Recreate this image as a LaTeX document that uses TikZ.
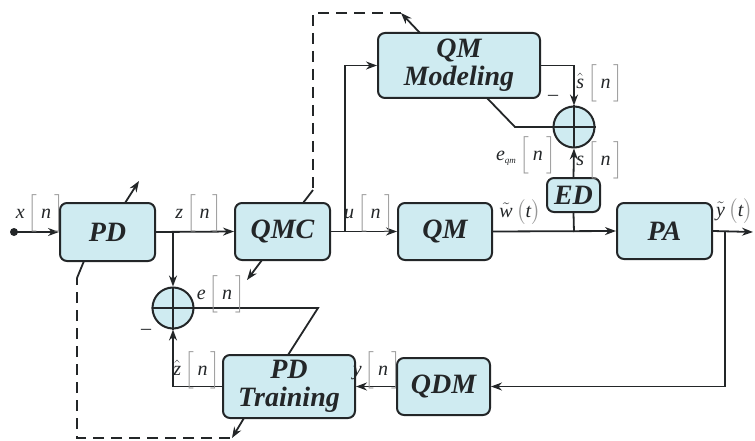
\documentclass[tikz,border=0pt]{standalone}
\usepackage{fontspec}
\usepackage{amsmath}
\setmainfont{Liberation Serif}
\usetikzlibrary{arrows.meta,calc}
\definecolor{boxfill}{RGB}{207,235,241}
\definecolor{ink}{RGB}{35,38,40}
\definecolor{brcol}{RGB}{150,150,150}
% signal labels: symbol with a tall grey bracketed index
\newcommand\brk[1]{{\color{brcol}$\Big#1$}}
\newcommand\pbrk[1]{{\color{brcol}$\big#1$}}
\newcommand\sig[2]{#1\,\brk[\,{\itshape #2}\,\brk]}
\newcommand\cont[1]{#1\,\pbrk({\itshape t}\pbrk)}
\begin{document}
\begin{tikzpicture}[x=1pt,y=-1pt,
  blk/.style={draw=ink, line width=2pt, fill=boxfill, rounded corners=7pt,
    font=\fontsize{28}{28}\selectfont\bfseries\itshape, text=ink, align=center, inner sep=0pt},
  sumnode/.style={circle, draw=ink, line width=2pt, fill=boxfill, minimum size=41pt, inner sep=0pt},
  lbl/.style={font=\fontsize{20}{20}\selectfont\itshape, text=ink, inner sep=0pt},
  wire/.style={draw=ink, line width=1.8pt},
  arr/.style={wire, -{Stealth[length=11pt,width=8pt]}},
  dashwire/.style={wire, dash pattern=on 11pt off 7pt}]
\useasboundingbox (0,0) rectangle (755,441);

% blocks
\node[blk, minimum width=95pt, minimum height=58pt] (pd)   at (107.5,232) {PD};
\node[blk, minimum width=95pt, minimum height=57pt] (qmc)  at (282.5,231.5) {QMC};
\node[blk, minimum width=94pt, minimum height=57pt] (qm)   at (445,231.5) {QM};
\node[blk, minimum width=95pt, minimum height=56pt] (pa)   at (664.5,231) {PA};
\node[blk, minimum width=53pt, minimum height=34pt] (ed)   at (573.5,195) {ED};
\node[blk, minimum width=162pt, minimum height=65pt] (qmmod) at (459,65.5) {QM\\Modeling};
\node[blk, minimum width=93pt, minimum height=57pt] (qdm)  at (443.5,386.5) {QDM};
\node[blk, minimum width=132pt, minimum height=63pt] (pdt) at (289,386.5) {PD\\Training};
\node[sumnode] (sumA) at (574,127) {};
\node[sumnode] (sumB) at (173,308) {};
\draw[wire] (sumA.north) -- (sumA.south) (sumA.west) -- (sumA.east);
\draw[wire] (sumB.north) -- (sumB.south) (sumB.west) -- (sumB.east);

% branch points and free ends
\fill[ink] (14,232) circle (4pt) coordinate (xin);
\coordinate (bz) at (173,232);
\coordinate (bu) at (345,232);
\coordinate (bw) at (574,232);
\coordinate (yout) at (753,232);
\coordinate (bfb) at (725,232);

% forward path
\draw[arr] (xin) -- (pd.west);
\draw[arr] (pd.east) -- (qmc.west);
\draw[arr] (qmc.east) -- (qm.west);
\draw[arr] (qm.east) -- (pa.west);
\draw[arr] (pa.east) -- (yout);
\draw[arr] (bz) -- (sumB.north);
\draw[arr] (bu) |- (qmmod.west);
\draw[wire] (bw) -- (ed.south);
\draw[arr] (ed.north) -- (sumA.south);
\draw[arr] (qmmod.east) -| (sumA.north);

% feedback path
\draw[arr] (bfb) |- (qdm.east);
\draw[arr] (qdm.west) -- (pdt.east);
\draw[arr] (pdt.west) -| (sumB.south);

% error lines into the adaptive blocks
\coordinate (eA) at (515,127);
\coordinate (eAin) at (487,98);
\draw[wire] (sumA.east) -- (eA) -- (eAin);
\coordinate (eB) at (318,308);
\coordinate (eBin) at (288,355);
\draw[wire] (sumB.west) -- (eB) -- (eBin);

% coefficient copy: QM Modeling -> QMC
\coordinate (qmTop) at (420,33);
\coordinate (qmA) at (401,13);
\coordinate (dA1) at (313,13);
\coordinate (dA2) at (313,190);
\coordinate (qmcIn) at (303,203);
\coordinate (qmcOut) at (262,260);
\coordinate (qmcTip) at (247,280);
\draw[arr] (qmTop) -- (qmA);
\draw[dashwire] (qmA) -- (dA1) -- (dA2);
\draw[wire] (dA2) -- (qmcIn);
\draw[arr] (qmcOut) -- (qmcTip);

% coefficient copy: PD Training -> PD
\coordinate (pdtOut) at (244,418);
\coordinate (pdtTip) at (232,438);
\coordinate (dB1) at (230,438);
\coordinate (dB2) at (77,438);
\coordinate (dB3) at (77,278);
\coordinate (pdIn) at (84,261);
\coordinate (pdOut) at (125,203);
\coordinate (pdTip) at (139,181);
\draw[arr] (pdtOut) -- (pdtTip);
\draw[dashwire] (dB1) -- (dB2) -- (dB3);
\draw[wire] (dB3) -- (pdIn);
\draw[arr] (pdOut) -- (pdTip);

% signal labels
\node[lbl] (lx)  at (40,213) {\sig{x}{n}};
\node[lbl] (lz)  at (199,213) {\sig{z}{n}};
\node[lbl] (lu)  at (369,213) {\sig{u}{n}};
\node[lbl] (lw)  at (520,212) {\cont{$\tilde{\text{\itshape w}}$}};
\node[lbl, anchor=west] (ly)  at (716,211) {\cont{$\tilde{\text{\itshape y}}$}};
\node[lbl] (lsh) at (600,83) {\sig{$\hat{\text{\itshape s}}$}{n}};
\node[lbl] (ls)  at (600,160) {\sig{s}{n}};
\node[lbl] (leq) at (526,155) {\sig{e\textsubscript{\fontsize{9}{9}\selectfont qm}}{n}};
\node[lbl] (le)  at (221,294) {\sig{e}{n}};
\node[lbl] (lzh) at (197,370) {\sig{$\hat{\text{\itshape z}}$}{n}};
\node[lbl] (lyn) at (377,370) {\sig{y}{n}};
\node[lbl] (mA)  at (553,98) {\upshape\textendash};
\node[lbl] (mB)  at (146,332) {\upshape\textendash};
\end{tikzpicture}
\end{document}
